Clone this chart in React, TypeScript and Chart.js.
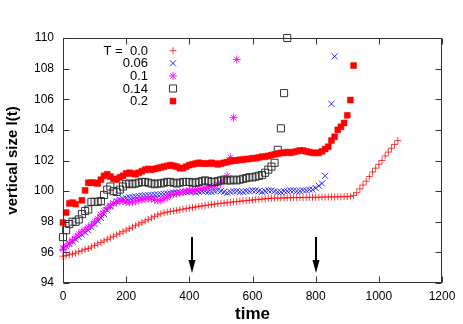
import React, { useEffect, useRef } from 'react';
import { Chart, registerables } from 'chart.js';
import { drawPoint } from 'chart.js/helpers';

Chart.register(...registerables);

// time grid (shared by all series)
const times = [
  0, 10, 20, 30, 40, 50, 60, 70, 80, 90,
  100, 110, 120, 130, 140, 150, 160, 170, 180, 190,
  200, 210, 220, 230, 240, 250, 260, 270, 280, 290,
  300, 310, 320, 330, 340, 350, 360, 370, 380, 390,
  400, 410, 420, 430, 440, 450, 460, 470, 480, 490,
  500, 510, 520, 530, 540, 550, 560, 570, 580, 590,
  600, 610, 620, 630, 640, 650, 660, 670, 680, 690,
  700, 710, 720, 730, 740, 750, 760, 770, 780, 790,
  800, 810, 820, 830, 840, 850, 860, 870, 880, 890,
  900, 910, 920, 930, 940, 950, 960, 970, 980, 990,
  1000, 1010, 1020, 1030, 1040, 1050, 1060,
];

const seriesLabels = ['T =  0.0', '0.06', '0.1', '0.14', '0.2'];

const sizeT000 = [
  95.75, 95.8, 95.85, 95.9, 95.95, 96.05, 96.1, 96.2, 96.25, 96.35,
  96.45, 96.55, 96.65, 96.75, 96.85, 96.95, 97.05, 97.15, 97.25, 97.35,
  97.45, 97.55, 97.65, 97.75, 97.85, 97.95, 98.05, 98.15, 98.25, 98.35,
  98.45, 98.52, 98.58, 98.63, 98.67, 98.7, 98.74, 98.78, 98.82, 98.86,
  98.9, 98.93, 98.96, 99.0, 99.03, 99.06, 99.09, 99.12, 99.15, 99.18,
  99.2, 99.22, 99.24, 99.27, 99.3, 99.32, 99.34, 99.36, 99.38, 99.4,
  99.42, 99.44, 99.46, 99.48, 99.5, 99.52, 99.53, 99.54, 99.55, 99.55,
  99.56, 99.56, 99.57, 99.57, 99.58, 99.58, 99.58, 99.59, 99.59, 99.6,
  99.6, 99.6, 99.61, 99.61, 99.62, 99.62, 99.62, 99.63, 99.63, 99.64,
  99.64, 99.66, 99.72, 99.9, 100.15, 100.4, 100.65, 100.95, 101.25, 101.5,
  101.75, 102.0, 102.3, 102.55, 102.8, 103.05, 103.3,
];

const sizeT006 = [
  96.3, 96.4, 96.55, 96.7, 96.85, 97.0, 97.15, 97.3, 97.45, 97.65,
  97.85, 98.05, 98.25, 98.5, 98.75, 99.0, 99.2, 99.35, 99.45, 99.5,
  99.55, 99.6, 99.62, 99.65, 99.68, 99.7, 99.72, 99.74, 99.75, 99.76,
  99.78, 99.8, 99.82, 99.85, 99.87, 99.9, 99.9, 99.92, 99.95, 99.95,
  99.98, 99.95, 99.9, 99.95, 100.0, 100.0, 99.95, 99.95, 100.0, 100.05,
  100.0, 99.95, 99.9, 99.95, 100.0, 100.0, 99.95, 99.95, 100.0, 100.0,
  100.05, 100.05, 100.0, 99.95, 100.0, 100.05, 100.05, 100.0, 99.95, 99.95,
  100.0, 100.0, 100.05, 100.05, 100.0, 100.0, 100.05, 100.05, 100.1, 100.1,
  100.2, 100.35, 100.5, 101.0, null, 105.7, 108.8,
];

const sizeT010 = [
  96.2, 96.4, 96.6, 96.8, 97.0, 97.2, 97.35, 97.5, 97.65, 97.8,
  98.0, 98.2, 98.45, 98.7, 98.9, 99.05, 99.2, 99.3, 99.35, 99.35,
  99.3, 99.25, 99.3, 99.35, 99.4, 99.45, 99.5, 99.5, 99.5, 99.45,
  99.4, 99.4, 99.5, 99.6, 99.75, 99.8, 99.85, 99.9, 99.95, 100.0,
  100.05, 100.05, 100.1, 100.15, 100.15, 100.2, 100.25, 100.3, 100.35, 100.45,
  100.55, 100.75, 101.0, 102.2, 104.8, 108.6,
];

const sizeT014 = [
  97.0, 97.45, 97.85, 98.0, 98.0, 98.15, 98.5, 98.7, 98.8, 99.3,
  99.3, 99.3, 99.35, 99.75, 100.1, 100.3, 100.0, 99.95, 100.1, 100.3,
  100.45, 100.5, 100.45, 100.5, 100.55, 100.6, 100.6, 100.55, 100.5, 100.45,
  100.5, 100.5, 100.55, 100.6, 100.6, 100.55, 100.5, 100.55, 100.6, 100.6,
  100.6, 100.55, 100.55, 100.6, 100.65, 100.7, 100.65, 100.6, 100.6, 100.65,
  100.7, 100.75, 100.7, 100.7, 100.75, 100.7, 100.75, 100.8, 100.85, 100.9,
  100.9, 100.95, 101.0, 101.05, 101.2, 101.4, 101.6, 101.85, 102.7, 104.1,
  106.4, 110.0,
];

const sizeT020 = [
  97.95, 98.6, 99.2, 99.25, 99.15, null, 99.4, 100.05, 100.55, 100.55,
  100.55, 100.5, 100.75, 101.0, 101.1, 100.95, 100.8, 100.75, 100.9, 101.0,
  101.15, 101.2, 101.15, 101.1, 101.2, 101.3, 101.4, 101.45, 101.4, 101.45,
  101.5, 101.55, 101.6, 101.65, 101.7, 101.65, 101.6, 101.5, 101.5, 101.6,
  101.7, 101.75, 101.8, 101.85, 101.8, 101.8, 101.8, 101.85, 101.8, 101.75,
  101.8, 101.85, 101.9, 101.95, 102.0, 102.0, 102.05, 102.05, 102.1, 102.1,
  102.15, 102.15, 102.2, 102.25, 102.25, 102.3, 102.35, 102.4, 102.45, 102.5,
  102.5, 102.55, 102.5, 102.55, 102.6, 102.65, 102.65, 102.6, 102.55, 102.5,
  102.5, 102.5, 102.6, 102.75, 102.9, 103.3, 103.55, 104.0, 104.2, 104.45,
  104.95, 105.95, 108.2,
];

const xTickValues = [0, 200, 400, 600, 800, 1000, 1200];
const yTickValues = [94, 96, 98, 100, 102, 104, 106, 108, 110];
const arrowTimes = [410, 800];
const arrowSpan = [97.0, 94.65];

const FONT = '"Liberation Sans", Arial, Helvetica, sans-serif';

const toPoints = (vals: (number | null)[]) =>
  vals
    .map((v, i) => (v == null ? null : { x: times[i], y: v }))
    .filter((p) => p !== null) as { x: number; y: number }[];

const framePlugin = {
  id: 'gnuFrame',
  afterDatasetsDraw(chart: any) {
    const { ctx, chartArea: a, scales } = chart;
    const xs = scales.x;
    const ys = scales.y;
    ctx.save();
    // arrows
    ctx.strokeStyle = '#000';
    ctx.fillStyle = '#000';
    for (const t of arrowTimes) {
      const px = Math.round(xs.getPixelForValue(t));
      const y0 = ys.getPixelForValue(arrowSpan[0]);
      const y1 = ys.getPixelForValue(arrowSpan[1]);
      ctx.lineWidth = 2;
      ctx.beginPath();
      ctx.moveTo(px, y0);
      ctx.lineTo(px, y1 - 10);
      ctx.stroke();
      ctx.beginPath();
      ctx.moveTo(px - 3.5, y1 - 13);
      ctx.lineTo(px + 3.5, y1 - 13);
      ctx.lineTo(px, y1);
      ctx.closePath();
      ctx.fill();
    }
    // frame
    ctx.strokeStyle = '#333';
    ctx.lineWidth = 1;
    const L = Math.round(a.left) + 0.5;
    const R = Math.round(a.right) - 0.5;
    const T = Math.round(a.top) + 0.5;
    const B = Math.round(a.bottom) - 0.5;
    ctx.strokeRect(L, T, R - L, B - T);
    const tl = 6;
    ctx.beginPath();
    for (const v of xTickValues) {
      const px = Math.round(xs.getPixelForValue(v)) + 0.5;
      ctx.moveTo(px, B);
      ctx.lineTo(px, B - tl);
      ctx.moveTo(px, T);
      ctx.lineTo(px, T + tl);
    }
    for (const v of yTickValues) {
      const py = Math.round(ys.getPixelForValue(v)) + 0.5;
      ctx.moveTo(L, py);
      ctx.lineTo(L + tl, py);
      ctx.moveTo(R, py);
      ctx.lineTo(R - tl, py);
    }
    ctx.stroke();
    ctx.restore();
  },
  afterDraw(chart: any) {
    const { ctx, chartArea: a } = chart;
    ctx.save();
    ctx.font = `13px ${FONT}`;
    ctx.textAlign = 'right';
    ctx.textBaseline = 'middle';
    chart.data.datasets.forEach((ds: any, i: number) => {
      const ty = a.top + 12.7 + i * 12.6;
      ctx.fillStyle = '#000';
      ctx.fillText(ds.label, a.left + 85, ty + 0.5);
      ctx.strokeStyle = ds.borderColor;
      ctx.fillStyle = ds.backgroundColor;
      ctx.lineWidth = ds.borderWidth;
      drawPoint(
        ctx,
        { pointStyle: ds.pointStyle, radius: ds.pointRadius, rotation: 0, borderWidth: ds.borderWidth },
        a.left + 110,
        ty
      );
    });
    ctx.restore();
  },
};

export default function App() {
  const ref = useRef<HTMLCanvasElement | null>(null);
  useEffect(() => {
    if (!ref.current) return;
    const styles = [
      { pointStyle: 'cross', pointRadius: 3.5, borderColor: 'rgba(255,0,0,0.75)', backgroundColor: 'rgba(0,0,0,0)', borderWidth: 1 },
      { pointStyle: 'crossRot', pointRadius: 4.3, borderColor: 'rgba(0,0,255,0.8)', backgroundColor: 'rgba(0,0,0,0)', borderWidth: 1 },
      { pointStyle: 'star', pointRadius: 4, borderColor: 'rgba(255,0,255,0.9)', backgroundColor: 'rgba(0,0,0,0)', borderWidth: 1 },
      { pointStyle: 'rect', pointRadius: 5, borderColor: '#333', backgroundColor: 'rgba(0,0,0,0)', borderWidth: 1 },
      { pointStyle: 'rect', pointRadius: 4.2, borderColor: '#ff0000', backgroundColor: '#ff0000', borderWidth: 0.5 },
    ];
    const seriesVals = [sizeT000, sizeT006, sizeT010, sizeT014, sizeT020];
    const chart = new Chart(ref.current, {
      type: 'scatter',
      data: {
        datasets: seriesVals.map((vals, i) => ({
          label: seriesLabels[i],
          data: toPoints(vals),
          showLine: false,
          clip: false,
          order: 5 - i,
          pointHoverRadius: styles[i].pointRadius,
          ...styles[i],
        })) as any,
      },
      options: {
        responsive: false,
        animation: false,
        devicePixelRatio: 1,
        events: [],
        layout: { padding: { left: 0, top: 38, right: 21, bottom: 0 } },
        plugins: { legend: { display: false }, tooltip: { enabled: false } },
        scales: {
          x: {
            type: 'linear',
            min: 0,
            max: 1200,
            afterFit: (s: any) => {
              s.height = 41;
            },
            afterBuildTicks: (s: any) => {
              s.ticks = xTickValues.map((v) => ({ value: v }));
            },
            grid: { display: false, drawTicks: false },
            border: { display: false },
            ticks: {
              padding: 6,
              maxRotation: 0,
              autoSkip: false,
              color: '#000',
              font: { family: FONT, size: 12 },
              callback: (v: any) => String(v),
            },
            title: {
              display: true,
              text: 'time',
              color: '#000',
              font: { family: FONT, size: 17, weight: 'bold', lineHeight: 1 },
              padding: { top: 0, bottom: 1 },
            },
          },
          y: {
            type: 'linear',
            min: 94,
            max: 110,
            afterFit: (s: any) => {
              s.width = 63;
            },
            afterBuildTicks: (s: any) => {
              s.ticks = yTickValues.map((v) => ({ value: v }));
            },
            grid: { display: false, drawTicks: false },
            border: { display: false },
            ticks: {
              padding: 9,
              autoSkip: false,
              color: '#000',
              font: { family: FONT, size: 12 },
              callback: (v: any) => String(v),
            },
            title: {
              display: true,
              text: 'vertical size l(t)',
              color: '#000',
              font: { family: FONT, size: 15, weight: 'bold', lineHeight: 1 },
              padding: { top: 5, bottom: 0 },
            },
          },
        },
      },
      plugins: [framePlugin],
    });
    return () => chart.destroy();
  }, []);
  return (
    <div style={{ position: 'absolute', left: 0, top: 0, width: 463, height: 324, background: '#fff' }}>
      <canvas ref={ref} width={463} height={324} style={{ display: 'block' }} />
    </div>
  );
}
